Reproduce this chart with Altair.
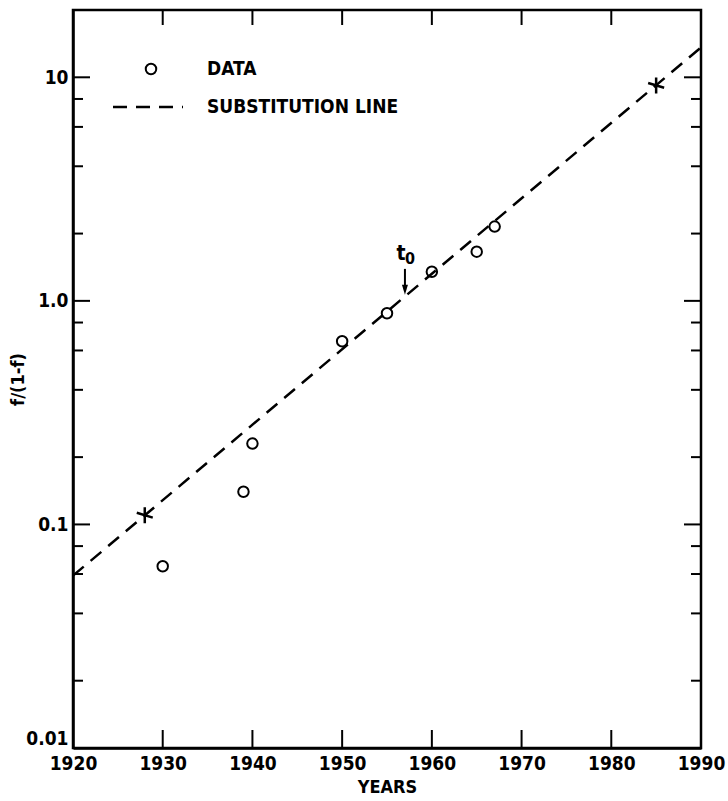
import altair as alt
import pandas as pd

# ---- data ----
data_years = [1930, 1939, 1940, 1950, 1955, 1960, 1965, 1967]
data_ratio = [0.065, 0.14, 0.23, 0.66, 0.88, 1.35, 1.66, 2.15]

line_years = [1920, 1990]
line_ratio = [0.059, 13.6]

star_years = [1928, 1985]
star_ratio = [0.11, 9.2]

t0_year = [1957]
t0_arrow_top = [1.39]
t0_arrow_tip = [1.12]
t0_label_val = [1.62]

x_ticks = [1920, 1930, 1940, 1950, 1960, 1970, 1980, 1990]
x_inner_ticks = [1930, 1940, 1950, 1960, 1970, 1980]
y_major = [0.01, 0.1, 1, 10]
y_major_labels = ["0.01", "0.1", "1.0", "10"]
y_minor = [m * d for d in [0.01, 0.1, 1, 10] for m in [2, 4, 6, 8] if m * d < 20]

legend_labels = ["DATA", "SUBSTITUTION LINE"]

FONT = "DejaVu Sans Condensed, Liberation Sans Narrow, DejaVu Sans"
W, H = 628, 738

xs = alt.Scale(domain=[1920, 1990], nice=False, zero=False)
ys = alt.Scale(type="log", domain=[0.01, 20], nice=False)

df_pts = pd.DataFrame({"year": data_years, "ratio": data_ratio})
df_line = pd.DataFrame({"year": line_years, "ratio": line_ratio})
df_star = pd.DataFrame({"year": star_years, "ratio": star_ratio})
df_t0 = pd.DataFrame({"year": t0_year, "top": t0_arrow_top, "tip": t0_arrow_tip,
                      "lab": t0_label_val})
df_xt = pd.DataFrame({"year": x_inner_ticks})
df_ymaj = pd.DataFrame({"ratio": y_major})
df_ymin = pd.DataFrame({"ratio": y_minor})

label_expr = " : ".join(
    [f"datum.value == {v} ? '{l}'" for v, l in zip(y_major, y_major_labels)]
) + " : ''"

x_axis = alt.Axis(values=x_ticks, format="d", ticks=False, grid=False,
                  domainColor="black", domainWidth=2.5, labelFlush=False,
                  labelFont=FONT, labelFontWeight="bold", labelFontSize=19,
                  labelColor="black", labelPadding=6,
                  title="YEARS", titleFont=FONT, titleFontWeight="bold",
                  titleFontSize=18, titleColor="black", titlePadding=5)
y_axis = alt.Axis(values=y_major, labelExpr=label_expr, ticks=False, grid=False,
                  domainColor="black", domainWidth=2.5, labelFlush=False,
                  labelBaseline={"condition": {"test": f"datum.value == {y_major[0]}",
                                               "value": "bottom"},
                                 "value": "middle"},
                  labelFont=FONT, labelFontWeight="bold", labelFontSize=19,
                  labelColor="black", labelPadding=5,
                  title="f/(1-f)", titleFont=FONT, titleFontWeight="bold",
                  titleFontSize=18, titleColor="black",
                  titleX=-55, titleY=369, titleBaseline="middle", titleAlign="center")


def X(field):
    return alt.X(field, type="quantitative", scale=xs, axis=x_axis)


def Y(field):
    return alt.Y(field, type="quantitative", scale=ys, axis=y_axis)


points = alt.Chart(df_pts).mark_point(shape="circle", filled=False, color="black",
                                      size=110, strokeWidth=2, opacity=1).encode(
    x=X("year"), y=Y("ratio"))

line = alt.Chart(df_line).mark_line(color="black", strokeWidth=2.5,
                                    strokeDash=[14, 9], clip=True).encode(
    x=X("year"), y=Y("ratio"))

stars = alt.Chart(df_star).mark_point(
    shape="M0,-1L0,1M-1,-0.3L1,0.3", filled=False, color="black",
    size=256, strokeWidth=2.5, opacity=1).encode(
    x=X("year"), y=Y("ratio"))

arrow_shaft = alt.Chart(df_t0).mark_rule(color="black", strokeWidth=2).encode(
    x=X("year"), y=Y("top"), y2="tip:Q")
arrow_head = alt.Chart(df_t0).mark_point(
    shape="M-0.6,-1L0,1L0.6,-1Z", filled=True, color="black", size=100,
    opacity=1).encode(x=X("year"), y=Y("tip"))
t_label = alt.Chart(df_t0).mark_text(font=FONT, fontWeight="bold", fontSize=21,
                                     color="black", dx=-4).encode(
    x=X("year"), y=Y("lab"), text=alt.value("t"))
sub_label = alt.Chart(df_t0).mark_text(font=FONT, fontWeight="bold", fontSize=16,
                                       color="black", dx=5, dy=5).encode(
    x=X("year"), y=Y("lab"), text=alt.value("0"))

# inward ticks
x_bottom = alt.Chart(df_xt).mark_rule(color="black", strokeWidth=2).encode(
    x=X("year"), y=alt.value(H), y2=alt.value(H - 18))
x_top = alt.Chart(df_xt).mark_rule(color="black", strokeWidth=2).encode(
    x=X("year"), y=alt.value(0), y2=alt.value(15))
yl_maj = alt.Chart(df_ymaj).mark_rule(color="black", strokeWidth=2).encode(
    y=Y("ratio"), x=alt.value(0), x2=alt.value(17))
yr_maj = alt.Chart(df_ymaj).mark_rule(color="black", strokeWidth=2).encode(
    y=Y("ratio"), x=alt.value(W), x2=alt.value(W - 17))
yl_min = alt.Chart(df_ymin).mark_rule(color="black", strokeWidth=2).encode(
    y=Y("ratio"), x=alt.value(0), x2=alt.value(10))
yr_min = alt.Chart(df_ymin).mark_rule(color="black", strokeWidth=2).encode(
    y=Y("ratio"), x=alt.value(W), x2=alt.value(W - 10))

# legend
leg_circle = alt.Chart(df_t0).mark_point(shape="circle", filled=False, color="black",
                                         size=110, strokeWidth=2, opacity=1).encode(
    x=alt.value(78), y=alt.value(59))
leg_dash = alt.Chart(df_t0).mark_rule(color="black", strokeWidth=2.5,
                                      strokeDash=[14, 9]).encode(
    x=alt.value(40), x2=alt.value(110), y=alt.value(97))
leg_text1 = alt.Chart(df_t0).mark_text(font=FONT, fontWeight="bold", fontSize=19,
                                       color="black", align="left",
                                       baseline="middle").encode(
    x=alt.value(134), y=alt.value(59), text=alt.value(legend_labels[0]))
leg_text2 = alt.Chart(df_t0).mark_text(font=FONT, fontWeight="bold", fontSize=19,
                                       color="black", align="left",
                                       baseline="middle").encode(
    x=alt.value(134), y=alt.value(97), text=alt.value(legend_labels[1]))

chart = alt.layer(
    points, line, stars, arrow_shaft, arrow_head, t_label, sub_label,
    x_bottom, x_top, yl_maj, yr_maj, yl_min, yr_min,
    leg_circle, leg_dash, leg_text1, leg_text2,
).properties(
    width=W, height=H,
    autosize=alt.AutoSizeParams(type="none"),
    padding={"left": 73, "top": 10, "right": 27, "bottom": 53},
    background="white",
).configure_view(stroke="black", strokeWidth=2.5)

chart.save("out.html", embed_options={"renderer": "svg", "actions": False})
